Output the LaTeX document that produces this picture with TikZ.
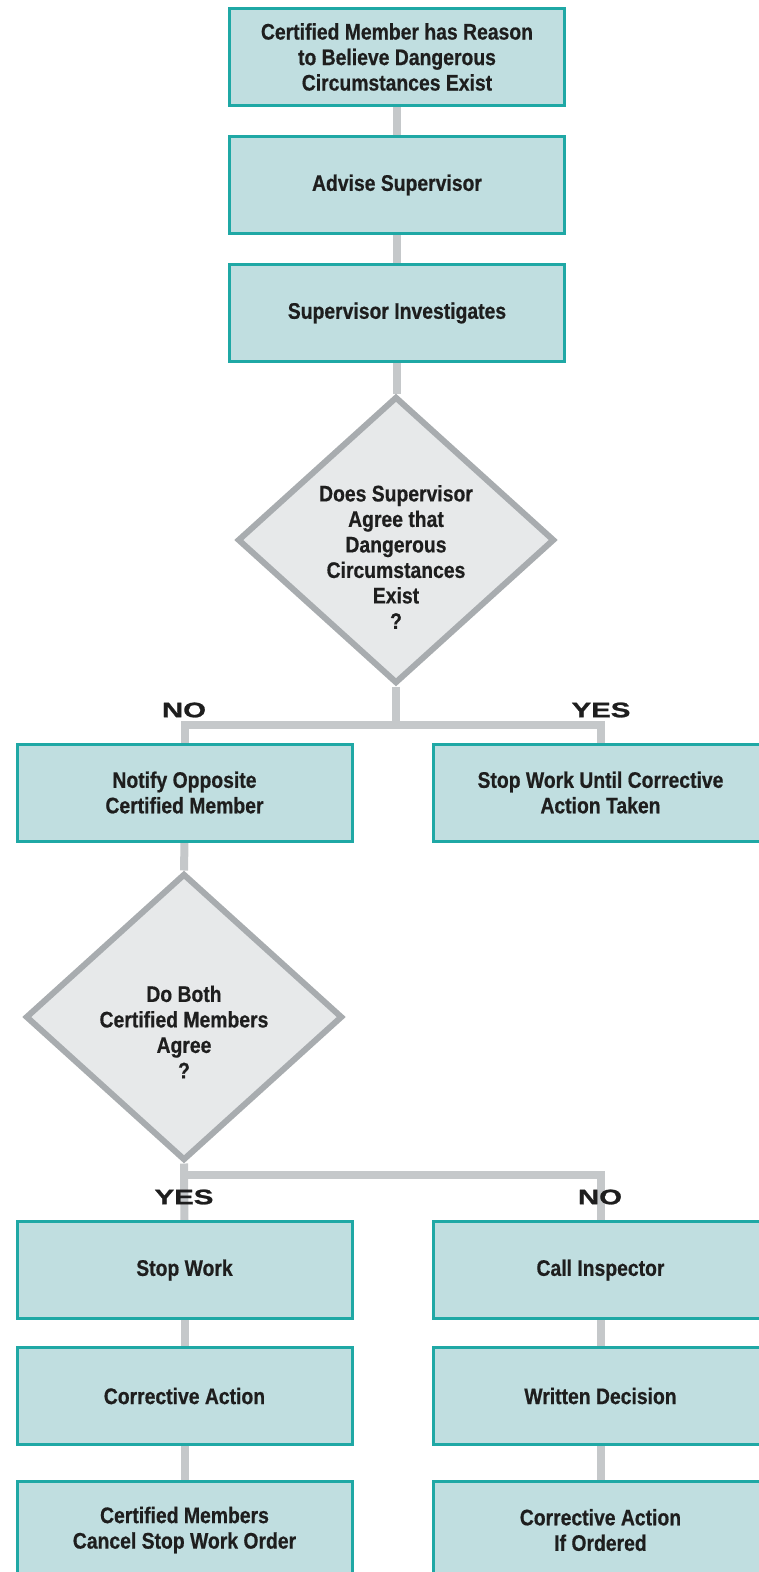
\documentclass[tikz,border=0pt]{standalone}
\usepackage{fontspec}
\setmainfont{Liberation Sans}
\newfontfamily\boxfont{Liberation Sans}[FakeStretch=0.86,FakeBold=0.6]
\newfontfamily\labfont{Liberation Sans}[FakeStretch=1.4,FakeBold=1.2]
\usetikzlibrary{shapes.geometric,backgrounds}
\definecolor{boxfill}{HTML}{C0DEE0}
\definecolor{boxline}{HTML}{1FA8A5}
\definecolor{dfill}{HTML}{E7E9EA}
\definecolor{dline}{HTML}{A8ACAF}
\definecolor{connc}{HTML}{C5C8CA}
\definecolor{txt}{HTML}{1E1E1E}
\tikzset{
  fbox/.style={draw=boxline, fill=boxfill, line width=3pt, minimum width=335pt,
    minimum height=97pt, inner sep=0pt, align=center, text=txt,
    font={\boxfont\bfseries\fontsize{22.5pt}{25.5pt}\selectfont}},
  dec/.style={diamond, draw=dline, fill=dfill, line width=6pt, minimum width=317pt,
    minimum height=287pt, inner sep=0pt},
  dtext/.style={align=center, inner sep=0pt, text=txt,
    font={\boxfont\bfseries\fontsize{22.5pt}{25.5pt}\selectfont}},
  conn/.style={draw=connc, line width=8pt},
  lab/.style={inner sep=0pt, text=txt, font={\labfont\bfseries\fontsize{21pt}{21pt}\selectfont}}
}
\begin{document}
\begin{tikzpicture}[x=1pt,y=-1pt]
\useasboundingbox (0,0) rectangle (759,1572);
\node[fbox] (b1) at (397,57) {Certified Member has Reason\\to Believe Dangerous\\Circumstances Exist};
\node[fbox] (b2) at (397,185) {Advise Supervisor};
\node[fbox] (b3) at (397,313) {Supervisor Investigates};
\node[dec] (d1) at (396,540) {};
\node[dtext] (d1t) at (396,557) {Does Supervisor\\Agree that\\Dangerous\\Circumstances\\Exist\\?};
\coordinate (br1) at (396,725);
\node[lab] (no1) at (184,710) {NO};
\node[lab] (yes1) at (601,710) {YES};
\node[fbox] (nL1) at (184.5,792.5) {Notify Opposite\\Certified Member};
\node[fbox] (nR1) at (600.5,792.5) {Stop Work Until Corrective\\Action Taken};
\node[dec] (d2) at (184,1017) {};
\node[dtext] (d2t) at (184,1032) {Do Both\\Certified Members\\Agree\\?};
\coordinate (br2) at (184,1175);
\node[fbox] (sL) at (184.5,1270) {Stop Work};
\node[fbox] (sR) at (600.5,1270) {Call Inspector};
\node[fbox] (cL) at (184.5,1396) {Corrective Action};
\node[fbox] (cR) at (600.5,1396) {Written Decision};
\node[fbox] (fL) at (184.5,1530) {Certified Members\\Cancel Stop Work Order};
\node[fbox] (fR) at (600.5,1530) {Corrective Action\\If Ordered};
\node[lab] (yes2) at (184,1197) {YES};
\node[lab] (no2) at (600,1197) {NO};
\begin{pgfonlayer}{background}
\draw[conn] (b1.south) -- (b2.north);
\draw[conn] (b2.south) -- (b3.north);
\draw[conn] (b3.south) -- (b3.south |- d1.north);
\draw[conn] (d1.south) -- (br1);
\draw[conn] (nL1.north) |- (br1);
\draw[conn] (nR1.north) |- (br1);
\draw[conn] (nL1.south) -- (d2.north);
\draw[conn] (d2.south) -- (sL.north);
\draw[conn] (br2) -| (sR.north);
\draw[conn] (sL.south) -- (cL.north);
\draw[conn] (cL.south) -- (fL.north);
\draw[conn] (sR.south) -- (cR.north);
\draw[conn] (cR.south) -- (fR.north);
\end{pgfonlayer}
\end{tikzpicture}
\end{document}
